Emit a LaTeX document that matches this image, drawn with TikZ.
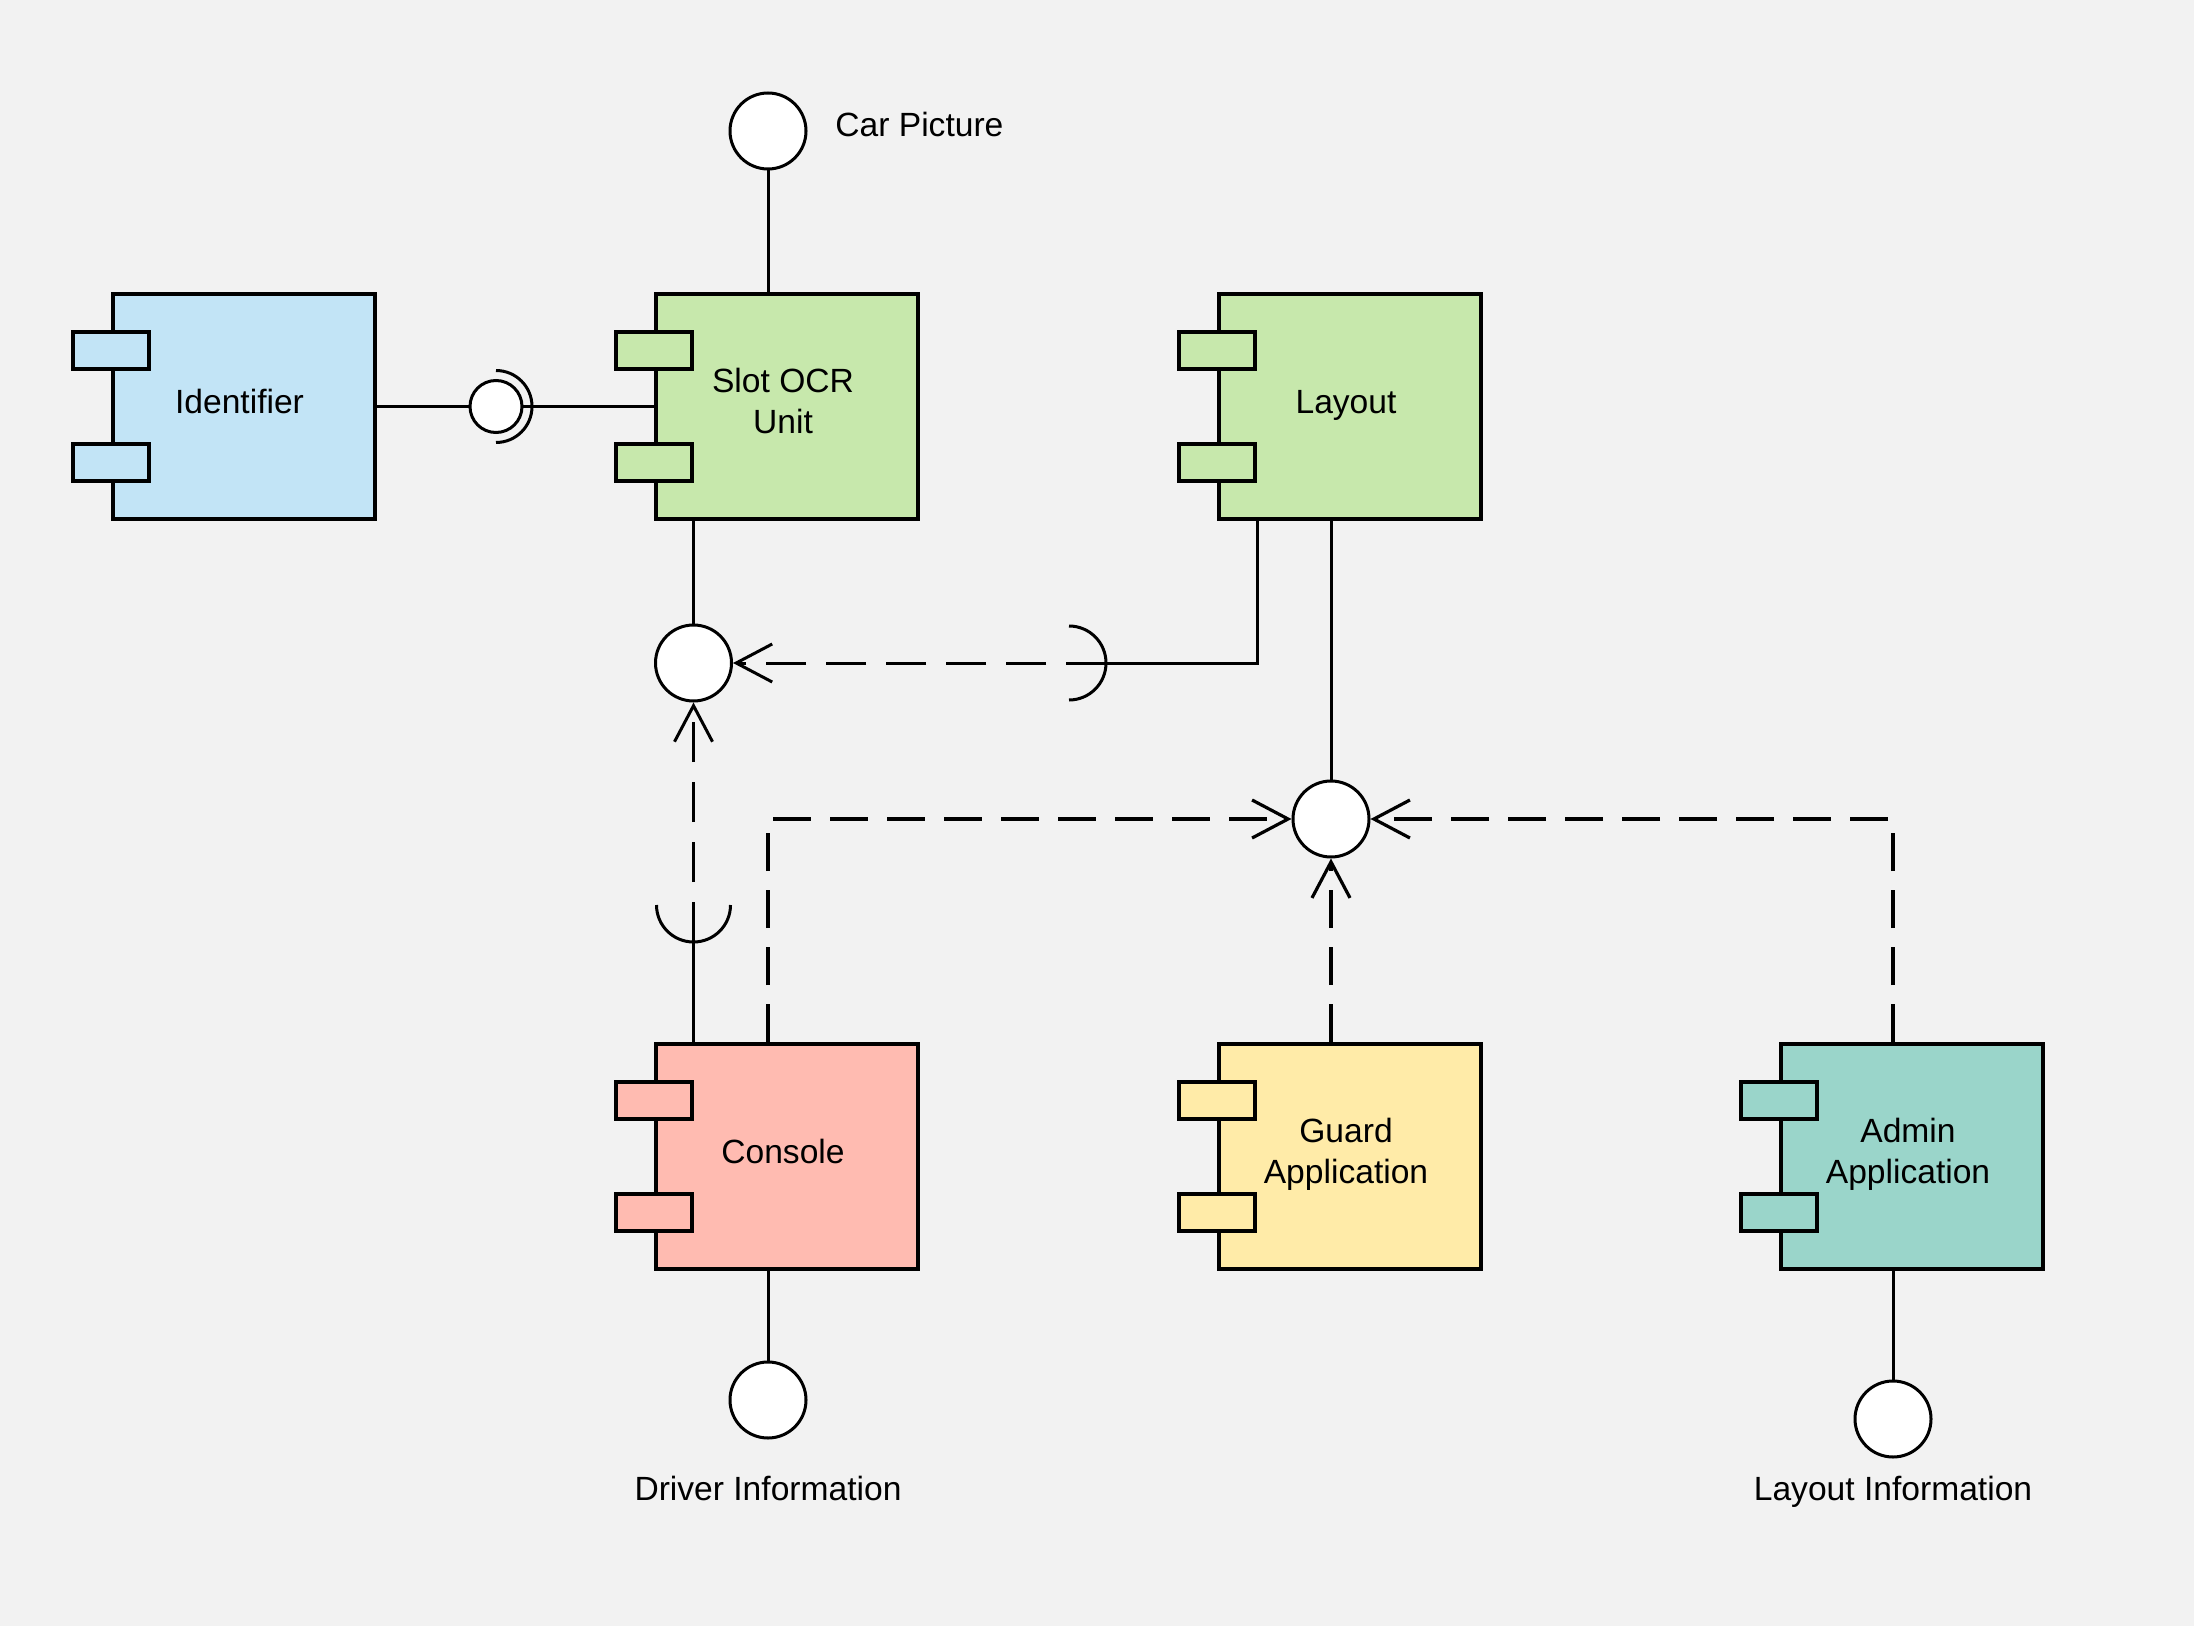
\documentclass[tikz,border=0pt]{standalone}
\usepackage{fontspec}
\setmainfont{Liberation Sans}
\usetikzlibrary{arrows.meta}

\definecolor{bg}{HTML}{F2F2F2}
\definecolor{cblue}{HTML}{C2E4F6}
\definecolor{cgreen}{HTML}{C7E8AC}
\definecolor{cred}{HTML}{FFBBB1}
\definecolor{cyellow}{HTML}{FFEBA8}
\definecolor{cteal}{HTML}{9AD5CA}

\tikzset{
  comp/.style={draw, line width=2pt, minimum width=131pt, minimum height=112.5pt, inner sep=0pt, fill=#1},
  port/.style={draw, line width=2pt, minimum width=38pt, minimum height=18.5pt, inner sep=0pt, fill=#1},
  lbl/.style={font=\fontsize{16.8}{20.3}\selectfont, align=center, inner sep=0pt},
  iface/.style={circle, draw, line width=1.5pt, fill=white, minimum size=38pt, inner sep=0pt},
  ball/.style={circle, draw, line width=1.5pt, fill=white, minimum size=26pt, inner sep=0pt},
  wire/.style={line width=1.5pt},
  dep/.style={line width=1.5pt, dash pattern=on 20pt off 10pt,
    -{Straight Barb[length=18pt,width=19pt,line width=1.5pt]}},
  depthick/.style={line width=2pt, dash pattern=on 19pt off 9.5pt,
    -{Straight Barb[length=18pt,width=19pt,line width=1.6pt]}},
}

% component box with two ports on its left side
\newcommand\compbox[4]{%
  \node[comp=#3] (#1) at (#2) {};
  \node[port=#3] (#1-p1) at ([yshift=28pt]#1.west) {};
  \node[port=#3] (#1-p2) at ([yshift=-28pt]#1.west) {};
  \node[lbl] (#1-txt) at ([xshift=-2pt,yshift=0.7pt]#1.center) {#4};
}

\begin{document}
\begin{tikzpicture}[x=0.5pt,y=-0.5pt]
\path[use as bounding box, fill=bg] (0,0) rectangle (2194,1626);

% components
\compbox{ident}{243.5,406.5}{cblue}{\strut Identifier}
\compbox{slot}{787,406.5}{cgreen}{\strut Slot OCR\\\strut Unit}
\compbox{layout}{1350,406.5}{cgreen}{\strut Layout}
\compbox{console}{787,1156.5}{cred}{\strut Console}
\compbox{guard}{1350,1156.5}{cyellow}{\strut Guard\\\strut Application}
\compbox{admin}{1912,1156.5}{cteal}{\strut Admin\\\strut Application}

% socket centres
\coordinate (idsock) at (496,406.5);
\coordinate (laysock) at (1069,663);
\coordinate (consock) at (693.5,905);

% wires behind the interface circles
\draw[wire] (ident.east) -- (slot.west);
\draw[wire] ([yshift=18pt]idsock) arc[start angle=90,end angle=-90,radius=18pt];

\coordinate (carpos) at (768,131);
\draw[wire] (carpos) -- (carpos |- slot.north);

\coordinate (ocrpos) at (693.5,663);
\draw[wire] (ocrpos |- slot.south) -- (ocrpos);

\draw[wire] (layout-p2.east |- layout.south) |- ([xshift=18.5pt]laysock);
\draw[wire] ([yshift=18.5pt]laysock) arc[start angle=90,end angle=-90,radius=18.5pt];

\coordinate (laypos) at (1331,819);
\draw[wire] (laypos |- layout.south) -- (laypos);

\draw[wire] ([xshift=-18.5pt]consock) arc[start angle=180,end angle=360,radius=18.5pt];
\draw[wire] ([yshift=-18.5pt]consock) -- (consock |- console.north);

\coordinate (drvpos) at (768,1400);
\draw[wire] (drvpos |- console.south) -- (drvpos);
\coordinate (lipos) at (1893,1419);
\draw[wire] (lipos |- admin.south) -- (lipos);

% interface circles
\node[ball] (idball) at (idsock) {};
\node[iface] (car) at (carpos) {};
\node[lbl, anchor=base west] (carlbl) at (835,137) {Car Picture};
\node[iface] (ocrif) at (ocrpos) {};
\node[iface] (layif) at (laypos) {};
\node[iface] (drv) at (drvpos) {};
\node[lbl, anchor=base] (drvlbl) at (768,1500) {Driver Information};
\node[iface] (layinfo) at (lipos) {};
\node[lbl, anchor=base] (lilbl) at (1893,1500) {Layout Information};

% dependencies
\draw[dep] ([xshift=18.5pt]laysock) -- (ocrif.east);
\draw[dep] ([yshift=-18.5pt]consock) -- (ocrif.south);
\draw[depthick] (drv |- console.north) |- (layif.west);
\draw[depthick] (layif |- guard.north) -- (layif.south);
\draw[depthick] (layinfo |- admin.north) |- (layif.east);
\end{tikzpicture}
\end{document}
